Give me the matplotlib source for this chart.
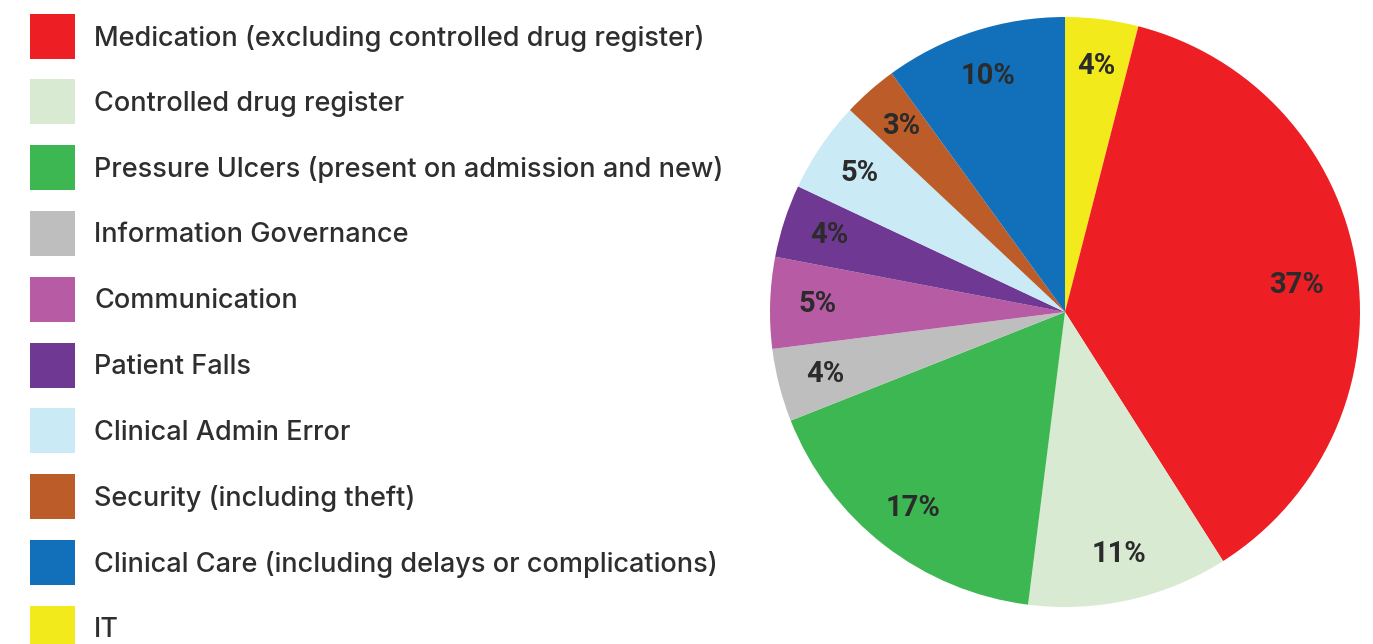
import matplotlib.pyplot as plt
from matplotlib.patches import Rectangle

categories = [
    "Medication (excluding controlled drug register)",
    "Controlled drug register",
    "Pressure Ulcers (present on admission and new)",
    "Information Governance",
    "Communication",
    "Patient Falls",
    "Clinical Admin Error",
    "Security (including theft)",
    "Clinical Care (including delays or complications)",
    "IT",
]
shares = [37, 11, 17, 4, 5, 4, 5, 3, 10, 4]
colors = ["#ED1F24", "#D8EBD2", "#3DB752", "#BEBEBE", "#B75BA5",
          "#6F3893", "#CAEAF6", "#BC5C28", "#1270BA", "#F2EA1B"]

# pie runs clockwise from 12 o'clock, starting with IT
pie_order = [9, 0, 1, 2, 3, 4, 5, 6, 7, 8]

W, H = 1373, 644
fig = plt.figure(figsize=(W / 100, H / 100), dpi=100)

cx, cy, r = 1065, 312, 295
ax = fig.add_axes([(cx - r) / W, (H - cy - r) / H, 2 * r / W, 2 * r / H])
vals = [shares[i] for i in pie_order]
cols = [colors[i] for i in pie_order]
wedges, texts, autotexts = ax.pie(
    vals, colors=cols, startangle=90, counterclock=False,
    autopct=lambda p: f"{p:.0f}%", pctdistance=0.84,
    wedgeprops=dict(linewidth=0),
    textprops=dict(fontsize=21, fontweight="bold", color="#2b2b2b",
                   family="Roboto"))
# the big slice carries its label further in and a little lower
autotexts[1].set_position((0.786, 0.092))
ax.set_xlim(-1, 1)
ax.set_ylim(-1, 1)
ax.set_aspect("equal")
ax.axis("off")

# legend: coloured squares with labels down the left side
sq = 45
for k, (name, c) in enumerate(zip(categories, colors)):
    yc = 36 + k * 65.8
    fig.patches.append(Rectangle((30 / W, (H - yc - sq / 2) / H), sq / W, sq / H,
                                 transform=fig.transFigure, facecolor=c,
                                 linewidth=0))
    fig.text(94 / W, (H - yc - 2) / H, name, fontsize=19.5, color="#2e2e2e",
             family="Inter", fontweight="medium", va="center", ha="left")

fig.savefig("out.png", dpi=100)
